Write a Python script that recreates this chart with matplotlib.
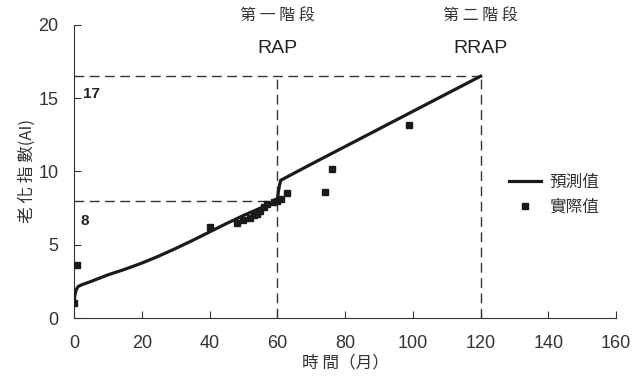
import numpy as np
import matplotlib.pyplot as plt

plt.rcParams['font.family'] = ['Liberation Sans', 'Noto Sans CJK TC', 'DejaVu Sans']

# predicted curve (預測值)
pred_t = [0, 0.3, 0.7, 1.2, 2, 5, 10, 15, 20, 25, 30, 35, 40, 45, 50, 55, 60,
          60.3, 60.7, 61, 70, 80, 90, 100, 110, 120]
pred_ai = [1.0, 1.6, 1.95, 2.15, 2.25, 2.5, 2.95, 3.33, 3.75, 4.23, 4.75, 5.3,
           5.88, 6.45, 7.0, 7.5, 8.0, 8.6, 9.1, 9.4, 10.5, 11.7, 12.9, 14.1,
           15.3, 16.5]

# measured values (實際值)
obs_t = [0, 1, 40, 48, 50, 52, 53, 54, 55, 56, 57, 59, 60, 61, 63, 74, 76, 99]
obs_ai = [1.0, 3.6, 6.2, 6.5, 6.7, 6.8, 7.0, 7.1, 7.3, 7.6, 7.8, 7.9, 8.0, 8.1,
          8.5, 8.6, 10.2, 13.2]

xticks = [0, 20, 40, 60, 80, 100, 120, 140, 160]
yticks = [0, 5, 10, 15, 20]

fig = plt.figure(figsize=(6.32, 3.88), dpi=100)
ax = fig.add_axes([0.117, 0.180, 0.858, 0.756])

dash = dict(color='#333333', lw=1.0, ls=(0, (7, 4)))
ax.plot([0, 120], [16.5, 16.5], **dash)
ax.plot([60, 60], [0, 16.5], **dash)
ax.plot([120, 120], [0, 16.5], **dash)
ax.plot([0, 60], [8, 8], **dash)

ax.plot(pred_t, pred_ai, color='#1a1a1a', lw=2.3, label='預測值', zorder=3)
ax.plot(obs_t, obs_ai, ls='none', marker='s', ms=4.5, color='#1a1a1a',
        label='實際值', zorder=4)

ax.set_xlim(0, 160)
ax.set_ylim(0, 20)
ax.set_xticks(xticks)
ax.set_yticks(yticks)
ax.tick_params(direction='in', labelsize=13, colors='#333333', length=5)
ax.tick_params(axis='x', pad=12)
ax.tick_params(axis='y', pad=11)
for s in ['top', 'right']:
    ax.spines[s].set_visible(False)
for s in ['left', 'bottom']:
    ax.spines[s].set_color('#333333')

ax.text(2.8, 15.3, '17', fontsize=11, fontweight='bold', color='#222222', va='center')
ax.text(2.0, 6.6, '8', fontsize=11, fontweight='bold', color='#222222', va='center')

cjk = ['Noto Sans CJK TC']
ax.text(60, 20.1, '第 一 階 段', fontsize=11.5, family=cjk, color='#333333',
        ha='center', va='bottom', clip_on=False)
ax.text(60, 17.8, 'RAP', fontsize=14, color='#222222', ha='center', va='bottom')
ax.text(120, 20.1, '第 二 階 段', fontsize=11.5, family=cjk, color='#333333',
        ha='center', va='bottom', clip_on=False)
ax.text(120, 17.8, 'RRAP', fontsize=14, color='#222222', ha='center', va='bottom')

ax.set_xlabel('時 間（月）', fontsize=12, family=cjk, color='#333333', labelpad=2)
ax.set_ylabel('老 化 指 數(AI)', fontsize=12, family=cjk,
              color='#333333', labelpad=2)

leg = ax.legend(loc='center left', bbox_to_anchor=(0.775, 0.42), frameon=False,
                prop={'family': cjk, 'size': 12}, handlelength=1.9,
                handletextpad=0.5, labelspacing=0.45)
for t in leg.get_texts():
    t.set_color('#333333')

fig.savefig('out.png', dpi=100)
